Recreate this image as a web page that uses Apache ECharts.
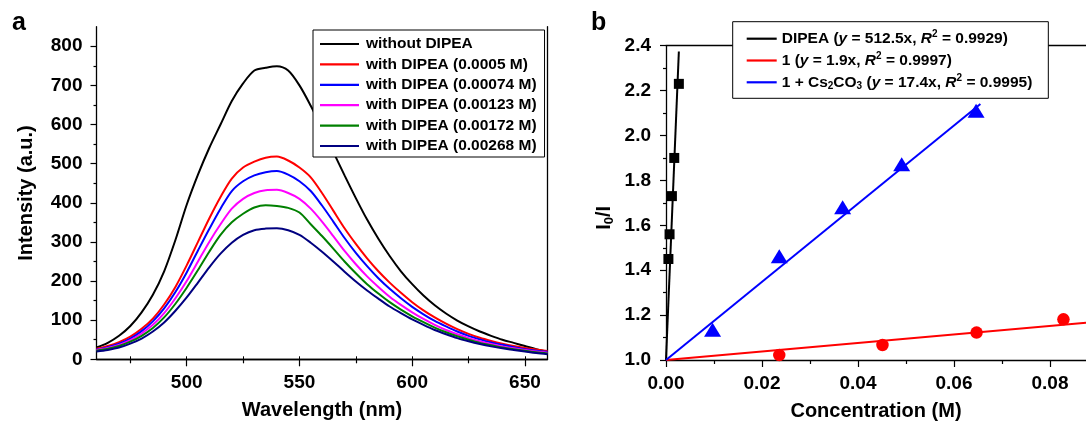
<!DOCTYPE html>
<html><head><meta charset="utf-8">
<script src="https://cdn.jsdelivr.net/npm/echarts@6/dist/echarts.min.js"></script>
<style>html,body{margin:0;padding:0;background:#fff}#c{width:1086px;height:421px}</style>
</head><body><div id="c"></div>
<script>
// ---------- Panel a data ----------
const wavelengths = [460,465,470,475,480,485,490,495,500,505,510,515,520,525,530,535,540,545,550,555,560,565,570,575,580,585,590,595,600,605,610,615,620,625,630,635,640,645,650,655,660];
const withoutDIPEA = [30,42,60,85,120,165,225,305,395,472,540,600,660,705,738,745,749,738,700,648,590,530,470,412,357,308,264,225,192,163,138,117,99,84,71,60,50,42,34,26,19];
const dipea00050 = [27,34,44,58,78,104,140,185,240,300,360,415,462,490,505,515,518,508,490,465,425,380,335,295,258,225,196,170,146,125,107,91,77,65,55,47,40,34,29,25,21];
const dipea00074 = [25,31,40,53,72,97,130,172,222,278,333,385,430,455,470,478,481,472,455,430,393,352,310,272,238,207,180,156,134,115,98,84,71,60,51,43,37,31,26,22,19];
const dipea00123 = [24,29,37,49,66,88,118,156,200,250,300,345,385,410,425,432,433,425,410,385,352,315,277,243,212,185,160,139,120,103,88,75,64,54,46,39,33,28,24,20,17];
const dipea00172 = [22,27,34,45,60,80,107,142,183,228,275,318,350,372,388,394,392,387,375,345,315,283,250,220,192,168,146,127,110,95,81,69,59,50,42,36,30,26,22,18,15];
const dipea00268 = [20,24,30,40,53,71,94,124,158,196,235,270,298,318,330,334,335,330,318,298,275,250,224,199,176,155,135,118,102,88,75,64,54,46,39,33,28,24,20,16,13];
const spectraNames = ['without DIPEA','with DIPEA (0.0005 M)','with DIPEA (0.00074 M)','with DIPEA (0.00123 M)','with DIPEA (0.00172 M)','with DIPEA (0.00268 M)'];
const spectraColors = ['#000000','#ff0000','#0000ff','#ff00ff','#008000','#000080'];
const xTicksA = [500,550,600,650];
const xMinorA = [475,525,575,625];
const xTopA = [475,500,525,550,575,600,625,650];
const yTicksA = [0,100,200,300,400,500,600,700,800];
const yMinorA = [50,150,250,350,450,550,650,750];

// ---------- Panel b data ----------
const dipeaConc = [0.0005,0.00074,0.00123,0.00172,0.00268];
const dipeaRatio = [1.45,1.56,1.73,1.90,2.23];
const cpd1Conc = [0.0236,0.0451,0.0647,0.0828];
const cpd1Ratio = [1.022,1.067,1.122,1.181];
const cs2co3Conc = [0.0097,0.0236,0.0368,0.0491,0.0646];
const cs2co3Ratio = [1.135,1.462,1.68,1.872,2.11];
const dipeaFit = [[0,1],[0.00268,2.374]];
const cpd1Fit = [[0,1],[0.0875,1.166]];
const cs2co3Fit = [[0,1],[0.0655,2.14]];
const xTicksB = [0,0.02,0.04,0.06,0.08];
const xMinorB = [0.01,0.03,0.05,0.07];
const yTicksB = [1.0,1.2,1.4,1.6,1.8,2.0,2.2,2.4];
const yMinorB = [1.1,1.3,1.5,1.7,1.9,2.1,2.3];

const FF = 'Liberation Sans, Arial, sans-serif';
const spectra = [withoutDIPEA,dipea00050,dipea00074,dipea00123,dipea00172,dipea00268];
const zip = (xs, ys) => xs.map((x,i)=>[x, ys[i]]);
const lab = {fontFamily:FF,fontWeight:'bold',fontSize:19,color:'#000'};
const nameStyle = {fontFamily:FF,fontWeight:'bold',fontSize:20,color:'#000'};
const line = {lineStyle:{color:'#000',width:1.3}};

const series = [];
spectra.forEach((d,i)=>{
  series.push({type:'line',name:spectraNames[i],xAxisIndex:0,yAxisIndex:0,data:zip(wavelengths,d),
    showSymbol:false,symbol:'none',smooth:0.3,lineStyle:{color:spectraColors[i],width:2},itemStyle:{color:spectraColors[i]},z:3});
});
const fitNames = ['DIPEA fit','1 fit','1 + Cs2CO3 fit'];
const fitColors = ['#000000','#ff0000','#0000ff'];
[dipeaFit,cpd1Fit,cs2co3Fit].forEach((d,i)=>{
  series.push({type:'line',name:fitNames[i],xAxisIndex:3,yAxisIndex:3,data:d,symbol:'none',showSymbol:false,
    lineStyle:{color:fitColors[i],width:2},itemStyle:{color:fitColors[i]},z:3});
});
series.push({type:'scatter',name:'DIPEA pts',xAxisIndex:3,yAxisIndex:3,data:zip(dipeaConc,dipeaRatio),symbol:'rect',symbolSize:10,itemStyle:{color:'#000',opacity:1},z:4});
series.push({type:'scatter',name:'1 pts',xAxisIndex:3,yAxisIndex:3,data:zip(cpd1Conc,cpd1Ratio),symbol:'circle',symbolSize:12.5,itemStyle:{color:'#ff0000',opacity:1},z:4});
series.push({type:'scatter',name:'Cs pts',xAxisIndex:3,yAxisIndex:3,data:zip(cs2co3Conc,cs2co3Ratio),symbol:'triangle',symbolSize:[17,14],itemStyle:{color:'#0000ff',opacity:1},z:4});

const rich = {
  n:{fontFamily:FF,fontWeight:'bold',fontSize:15.5,color:'#000',lineHeight:18},
  i:{fontFamily:FF,fontWeight:'bold',fontStyle:'italic',fontSize:15.5,color:'#000',lineHeight:18},
  sup:{fontFamily:FF,fontWeight:'bold',fontSize:10,color:'#000',lineHeight:10,verticalAlign:'top'},
  sub:{fontFamily:FF,fontWeight:'bold',fontSize:10,color:'#000',lineHeight:10,verticalAlign:'bottom'}
};
const fitLabels = {
  'DIPEA fit':'{n|DIPEA (}{i|y}{n| = 512.5x, }{i|R}{sup|2}{n| = 0.9929)}',
  '1 fit':'{n|1 (}{i|y}{n| = 1.9x, }{i|R}{sup|2}{n| = 0.9997)}',
  '1 + Cs2CO3 fit':'{n|1 + Cs}{sub|2}{n|CO}{sub|3}{n| (}{i|y}{n| = 17.4x, }{i|R}{sup|2}{n| = 0.9995)}'
};

const option = {
  animation:false,
  backgroundColor:'#fff',
  grid:[{left:96.5,top:26.7,width:451,height:332.6,containLabel:false,outerBoundsMode:'none'},
        {left:666,top:45.7,width:420,height:314.3,containLabel:false,outerBoundsMode:'none'}],
  xAxis:[
    {type:'value',gridIndex:0,position:'bottom',min:460,max:660,name:'Wavelength (nm)',nameLocation:'middle',nameGap:41,nameTextStyle:nameStyle,
      axisLine:line,axisTick:{show:true,length:7,customValues:xTicksA,lineStyle:{color:'#000',width:1.2}},
      axisLabel:Object.assign({margin:14,customValues:xTicksA},lab),splitLine:{show:false}},
    {type:'value',gridIndex:0,position:'bottom',min:460,max:660,axisLine:{show:false},
      axisTick:{show:true,length:4,customValues:xMinorA,lineStyle:{color:'#000',width:1.2}},axisLabel:{show:false},splitLine:{show:false}},
    {type:'value',gridIndex:0,position:'top',min:460,max:660,axisLine:line,
      axisTick:{show:true,length:3,customValues:xTopA,lineStyle:{color:'#000',width:1}},axisLabel:{show:false},splitLine:{show:false}},
    {type:'value',gridIndex:1,position:'bottom',min:0,max:0.0875,name:'Concentration (M)',nameLocation:'middle',nameGap:41,nameTextStyle:nameStyle,
      axisLine:line,axisTick:{show:true,length:7,customValues:xTicksB,lineStyle:{color:'#000',width:1.2}},
      axisLabel:Object.assign({margin:14,customValues:xTicksB,formatter:v=>v.toFixed(2)},lab),splitLine:{show:false}},
    {type:'value',gridIndex:1,position:'bottom',min:0,max:0.0875,axisLine:{show:false},
      axisTick:{show:true,length:4,customValues:xMinorB,lineStyle:{color:'#000',width:1.2}},axisLabel:{show:false},splitLine:{show:false}},
    {type:'value',gridIndex:1,position:'top',min:0,max:0.0875,axisLine:line,axisTick:{show:false},axisLabel:{show:false},splitLine:{show:false}}
  ],
  yAxis:[
    {type:'value',gridIndex:0,position:'left',min:0,max:850,name:'Intensity (a.u.)',nameLocation:'middle',nameGap:60,nameTextStyle:nameStyle,
      axisLine:line,axisTick:{show:true,length:6,customValues:yTicksA,lineStyle:{color:'#000',width:1.2}},
      axisLabel:Object.assign({margin:14,customValues:yTicksA},lab),splitLine:{show:false}},
    {type:'value',gridIndex:0,position:'left',min:0,max:850,axisLine:{show:false},
      axisTick:{show:true,length:3,customValues:yMinorA,lineStyle:{color:'#000',width:1.2}},axisLabel:{show:false},splitLine:{show:false}},
    {type:'value',gridIndex:0,position:'right',min:0,max:850,axisLine:line,axisTick:{show:false},axisLabel:{show:false},splitLine:{show:false}},
    {type:'value',gridIndex:1,position:'left',min:1.0,max:2.4,name:'{a|I}{b|0}{a|/I}',nameLocation:'middle',nameGap:50,
      nameTextStyle:{padding:[0,30,0,0],rich:{a:{fontFamily:FF,fontWeight:'bold',fontSize:20,color:'#000',lineHeight:24},b:{fontFamily:FF,fontWeight:'bold',fontSize:13,color:'#000',lineHeight:13,verticalAlign:'bottom'}}},
      axisLine:line,axisTick:{show:true,length:6,customValues:yTicksB,lineStyle:{color:'#000',width:1.2}},
      axisLabel:Object.assign({margin:15,customValues:yTicksB,formatter:v=>v.toFixed(1)},lab),splitLine:{show:false}},
    {type:'value',gridIndex:1,position:'left',min:1.0,max:2.4,axisLine:{show:false},
      axisTick:{show:true,length:3,customValues:yMinorB,lineStyle:{color:'#000',width:1.2}},axisLabel:{show:false},splitLine:{show:false}}
  ],
  legend:[
    {data:spectraNames,orient:'vertical',left:313,top:30,padding:[6,8,3,7],icon:'rect',itemWidth:39,itemHeight:2.2,itemGap:4.4,
      backgroundColor:'#fff',borderColor:'#000',borderWidth:1,z:10,
      textStyle:{fontFamily:FF,fontWeight:'bold',fontSize:15.5,color:'#000',lineHeight:16,padding:[0,0,0,2]}},
    {data:fitNames,orient:'vertical',left:732.7,top:21.7,padding:[8,16,7,14],icon:'rect',itemWidth:30,itemHeight:2.2,itemGap:3.8,
      backgroundColor:'#fff',borderColor:'#000',borderWidth:1,z:10,
      formatter:n=>fitLabels[n],textStyle:{rich:rich,lineHeight:18}}
  ],
  graphic:[
    {type:'text',left:12,top:11,style:{text:'a',font:'bold 25px Liberation Sans',fill:'#000'}},
    {type:'text',left:591,top:11,style:{text:'b',font:'bold 25px Liberation Sans',fill:'#000'}}
  ],
  series:series
};
const chart = echarts.init(document.getElementById('c'),null,{renderer:'canvas'});
chart.setOption(option);
</script></body></html>
